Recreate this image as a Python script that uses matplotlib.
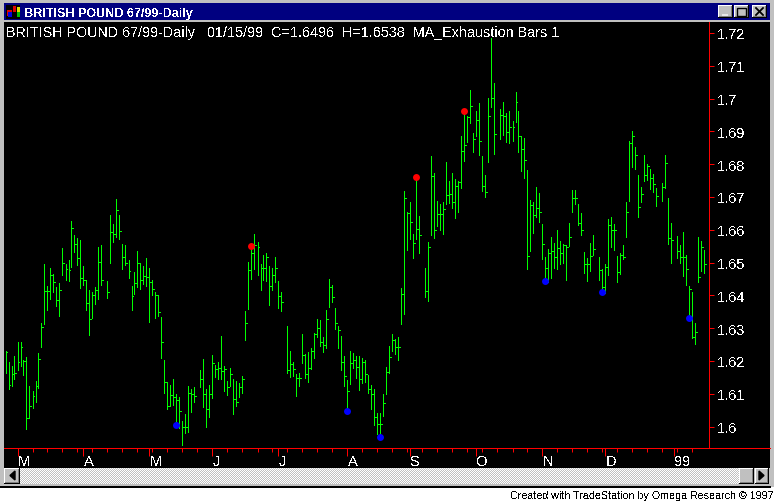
import numpy as np
import matplotlib
matplotlib.use("Agg")
import matplotlib.pyplot as plt
from matplotlib.patches import Rectangle

plt.rcParams["font.family"] = ["Liberation Sans", "DejaVu Sans"]
plt.rcParams["text.antialiased"] = False

WIDTH: int = 774
HEIGHT: int = 502
GREEN: str = "#00FF00"
RED: str = "#FF0000"
BLUE: str = "#0000FF"
SILVER: str = "#C0C0C0"

TITLE: str = "BRITISH POUND 67/99-Daily"
HEADER: str = "BRITISH POUND 67/99-Daily   01/15/99  C=1.6496  H=1.6538  MA_Exhaustion Bars 1"
FOOTER: str = "Created with TradeStation by Omega Research \u00a9 1997"

# Daily bars, None is a day with no trading
HIGHS = [
    1.6230, 1.6197, 1.6184, 1.6215, 1.6258, 1.6258, 1.6203, 1.6212, 1.6123, 1.6108,
    1.6139, 1.6224, 1.6315, 1.6495, 1.6428, 1.6483, 1.6465, 1.6425, 1.6437, 1.6544,
    1.6495, 1.6508, 1.6626, 1.6584, 1.6575, 1.6569, 1.6489, 1.6447, 1.6416, 1.6410,
    1.6425, 1.6547, 1.6553, None, 1.6444, 1.6645, 1.6617, 1.6694, 1.6645, 1.6556,
    1.6553, 1.6508, 1.6428, 1.6471, 1.6535, 1.6498, 1.6489, 1.6514, 1.6483, 1.6447,
    1.6410, 1.6401, 1.6334, 1.6203, 1.6136, 1.6126, 1.6145, 1.6099, 1.6090, 1.6017,
    1.6038, 1.6123, 1.6115, 1.6121, None, 1.6173, 1.6206, 1.6115, 1.6127, 1.6218,
    1.6188, 1.6197, 1.6276, 1.6185, 1.6138, 1.6179, 1.6145, 1.6139, 1.6133, 1.6154,
    1.6353, 1.6502, 1.6552, 1.6587, 1.6563, 1.6496, 1.6523, 1.6529, 1.6490, 1.6484,
    1.6517, 1.6444, 1.6410, None, 1.6307, 1.6231, 1.6197, 1.6160, 1.6163, 1.6282,
    1.6221, 1.6227, 1.6240, 1.6285, 1.6328, 1.6325, 1.6273, 1.6356, 1.6450, 1.6432,
    1.6362, 1.6307, 1.6276, 1.6215, 1.6142, 1.6231, 1.6224, 1.6215, 1.6215, 1.6209,
    1.6203, 1.6157, 1.6126, 1.6114, 1.6041, 1.6041, 1.6099, 1.6181, 1.6245, 1.6282,
    1.6267, 1.6273, 1.6422, 1.6718, 1.6654, 1.6685, 1.6587, 1.6765, 1.6642, None,
    1.6483, 1.6563, 1.6825, 1.6773, 1.6688, 1.6678, 1.6685, 1.6806, 1.6749, 1.6773,
    1.6755, 1.6749, 1.6886, 1.6963, 1.6947, 1.7026, 1.6895, 1.6962, 1.6986, 1.6825,
    1.6767, 1.7002, 1.7185, 1.7047, None, 1.6968, 1.6989, 1.6956, 1.6962, 1.6932,
    1.7020, 1.6962, 1.6886, 1.6880, 1.6782, 1.6691, 1.6685, 1.6730, 1.6712, 1.6618,
    1.6517, 1.6542, 1.6578, 1.6560, 1.6600, 1.6566, 1.6557, 1.6554, 1.6621, 1.6722,
    1.6722, 1.6679, 1.6651, 1.6532, 1.6514, 1.6560, 1.6584, None, 1.6517, 1.6481,
    1.6496, 1.6633, 1.6639, 1.6618, 1.6520, 1.6529, 1.6554, 1.6685, 1.6871, 1.6901,
    1.6853, 1.6767, 1.6731, 1.6828, 1.6801, 1.6786, 1.6770, 1.6728, None, 1.6743,
    1.6828, 1.6697, 1.6621, None, 1.6581, 1.6554, 1.6593, 1.6523, 1.6429, 1.6411,
    1.6316, 1.6578, 1.6566, 1.6538,
]
LOWS = [
    1.6163, 1.6114, 1.6123, 1.6145, 1.6172, 1.6184, 1.6157, 1.5992, 1.6026, 1.6056,
    1.6075, 1.6117, 1.6242, 1.6312, 1.6355, 1.6389, 1.6410, 1.6367, 1.6337, 1.6462,
    1.6447, 1.6444, 1.6486, 1.6532, 1.6492, 1.6422, 1.6431, 1.6355, 1.6279, 1.6330,
    1.6373, 1.6389, 1.6431, None, 1.6392, 1.6498, 1.6562, 1.6578, 1.6572, 1.6480,
    1.6492, 1.6453, 1.6355, 1.6404, 1.6425, 1.6419, 1.6434, 1.6428, 1.6318, 1.6401,
    1.6331, 1.6337, 1.6209, 1.6102, 1.6053, 1.6062, 1.6065, 1.6008, 1.5995, 1.5943,
    1.5980, 1.5983, 1.6045, 1.6075, None, 1.6121, 1.6060, 1.5999, 1.6029, 1.6087,
    1.6151, 1.6145, 1.6145, 1.6109, 1.6096, 1.6124, 1.6038, 1.6063, 1.6090, 1.6102,
    1.6264, 1.6359, 1.6450, 1.6481, 1.6462, 1.6417, 1.6447, 1.6444, 1.6371, 1.6417,
    1.6441, 1.6362, 1.6353, None, 1.6163, 1.6151, 1.6154, 1.6093, 1.6124, 1.6194,
    1.6148, 1.6136, 1.6176, 1.6209, 1.6273, 1.6246, 1.6227, 1.6240, 1.6365, 1.6380,
    1.6298, 1.6240, 1.6173, 1.6124, 1.6054, 1.6130, 1.6179, 1.6148, 1.6112, 1.6133,
    1.6136, 1.6102, 1.6053, 1.6004, 1.5977, 1.5977, 1.6032, 1.6099, 1.6163, 1.6230,
    1.6221, 1.6203, 1.6313, 1.6343, 1.6538, 1.6572, 1.6514, 1.6572, 1.6529, None,
    1.6395, 1.6383, 1.6584, 1.6575, 1.6611, 1.6599, 1.6587, 1.6678, 1.6681, 1.6666,
    1.6636, 1.6654, 1.6727, 1.6810, 1.6867, 1.6925, 1.6837, 1.6886, 1.6828, 1.6718,
    1.6700, 1.6806, 1.6974, 1.6831, None, 1.6877, 1.6889, 1.6867, 1.6864, 1.6871,
    1.6928, 1.6837, 1.6779, 1.6758, 1.6480, 1.6535, 1.6590, 1.6639, 1.6624, 1.6511,
    1.6452, 1.6441, 1.6453, 1.6484, 1.6481, 1.6496, 1.6499, 1.6447, 1.6551, 1.6654,
    1.6679, 1.6615, 1.6584, 1.6468, 1.6444, 1.6475, 1.6523, None, 1.6447, 1.6404,
    1.6407, 1.6462, 1.6548, 1.6539, 1.6441, 1.6465, 1.6511, 1.6578, 1.6688, 1.6792,
    1.6786, 1.6639, 1.6685, 1.6749, 1.6752, 1.6725, 1.6715, 1.6673, None, 1.6688,
    1.6728, 1.6557, 1.6499, None, 1.6514, 1.6499, 1.6459, 1.6432, 1.6334, 1.6270,
    1.6252, 1.6441, 1.6475, 1.6468,
]
CLOSES = [
    1.6226, 1.6128, 1.6159, 1.6162, 1.6196, 1.6241, 1.6199, 1.6025, 1.6061, 1.6092,
    1.6125, 1.6205, 1.6302, 1.6412, 1.6412, 1.6461, 1.6442, 1.6385, 1.6415, 1.6500,
    1.6479, 1.6476, 1.6604, 1.6555, 1.6513, 1.6452, 1.6446, 1.6378, 1.6327, 1.6400,
    1.6415, 1.6503, 1.6446, None, 1.6409, 1.6593, 1.6586, 1.6659, 1.6595, 1.6516,
    1.6500, 1.6473, 1.6397, 1.6436, 1.6497, 1.6446, 1.6458, 1.6455, 1.6442, 1.6418,
    1.6400, 1.6348, 1.6257, 1.6135, 1.6064, 1.6095, 1.6089, 1.6080, 1.6046, 1.5997,
    1.5997, 1.6101, 1.6098, 1.6092, None, 1.6144, 1.6098, 1.6053, 1.6098, 1.6193,
    1.6175, 1.6178, 1.6169, 1.6175, 1.6120, 1.6159, 1.6083, 1.6074, 1.6120, 1.6144,
    1.6315, 1.6476, 1.6528, 1.6554, 1.6547, 1.6483, 1.6483, 1.6516, 1.6428, 1.6461,
    1.6483, 1.6397, 1.6379, None, 1.6172, 1.6190, 1.6175, 1.6147, 1.6147, 1.6217,
    1.6159, 1.6178, 1.6230, 1.6281, 1.6301, 1.6257, 1.6248, 1.6327, 1.6425, 1.6394,
    1.6315, 1.6294, 1.6196, 1.6153, 1.6108, 1.6193, 1.6202, 1.6181, 1.6144, 1.6196,
    1.6159, 1.6114, 1.6098, 1.6028, 1.6009, 1.6009, 1.6073, 1.6165, 1.6211, 1.6263,
    1.6241, 1.6241, 1.6403, 1.6696, 1.6651, 1.6623, 1.6559, 1.6601, 1.6583, None,
    1.6412, 1.6546, 1.6763, 1.6598, 1.6647, 1.6647, 1.6662, 1.6705, 1.6708, 1.6684,
    1.6732, 1.6745, 1.6839, 1.6857, 1.6943, 1.6976, 1.6876, 1.6934, 1.6870, 1.6732,
    1.6714, 1.6946, 1.7001, 1.6891, None, 1.6949, 1.6946, 1.6897, 1.6912, 1.6912,
    1.6988, 1.6885, 1.6845, 1.6812, 1.6519, 1.6674, 1.6644, 1.6665, 1.6653, 1.6556,
    1.6483, 1.6528, 1.6535, 1.6516, 1.6544, 1.6528, 1.6553, 1.6547, 1.6577, 1.6696,
    1.6696, 1.6620, 1.6599, 1.6495, 1.6495, 1.6519, 1.6541, None, 1.6477, 1.6425,
    1.6486, 1.6614, 1.6599, 1.6599, 1.6471, 1.6522, 1.6516, 1.6653, 1.6864, 1.6885,
    1.6827, 1.6669, 1.6708, 1.6766, 1.6794, 1.6757, 1.6739, 1.6702, None, 1.6730,
    1.6803, 1.6574, 1.6568, None, 1.6535, 1.6516, 1.6516, 1.6480, 1.6419, 1.6273,
    1.6288, 1.6455, 1.6547, 1.6496,
]

# MA_Exhaustion signals: bar number and price
RED_BARS = [82, 137, 153]
RED_PRICES = [1.6551, 1.6762, 1.6963]
BLUE_BARS = [57, 114, 125, 180, 199, 228]
BLUE_PRICES = [1.6005, 1.6048, 1.5969, 1.6443, 1.6411, 1.6332]

PRICE_TICKS = [1.60, 1.61, 1.62, 1.63, 1.64, 1.65, 1.66, 1.67, 1.68, 1.69, 1.70, 1.71, 1.72]
MONTH_BARS = [4, 26, 48, 69, 91, 114, 135, 157, 179, 200, 223]
MONTH_LABELS = ["M", "A", "M", "J", "J", "A", "S", "O", "N", "D", "99"]
WEEK_BARS = list(range(4, 230, 5))


def frac_box(x0: float, y0: float, x1: float, y1: float) -> list[float]:
    # Pixel box, y from the top, to figure fractions
    return [x0 / WIDTH, 1 - y1 / HEIGHT, (x1 - x0) / WIDTH, (y1 - y0) / HEIGHT]


def button(ax, x0: float, y0: float, x1: float, y1: float) -> None:
    ax.add_patch(Rectangle((x0, y0), x1 - x0, y1 - y0, fc="black", lw=0, zorder=2))
    ax.add_patch(Rectangle((x0, y0), x1 - x0 - 1, y1 - y0 - 1, fc="white", lw=0, zorder=2))
    ax.add_patch(Rectangle((x0 + 1, y0 + 1), x1 - x0 - 2, y1 - y0 - 2, fc="#808080", lw=0, zorder=2))
    ax.add_patch(Rectangle((x0 + 1, y0 + 1), x1 - x0 - 3, y1 - y0 - 3, fc=SILVER, lw=0, zorder=2))


def draw_chrome(fig) -> None:
    ax = fig.add_axes([0, 0, 1, 1], zorder=0)
    ax.axis("off")

    # Window frame and title bar
    ax.add_patch(Rectangle((0, 0), WIDTH, 488, fc=SILVER, lw=0))
    ax.add_patch(Rectangle((0, 487), 771, 1.5, fc="black", lw=0))
    ax.add_patch(Rectangle((4, 4), 766, 17, fc="#000080", lw=0))
    ax.add_patch(Rectangle((4, 448), 766, 21, fc="black", lw=0))

    # Chart icon
    ax.add_patch(Rectangle((6, 6), 14, 14, fc="black", lw=0))
    ax.add_patch(Rectangle((7, 11), 5, 6, fc="#E00000", lw=0))
    ax.add_patch(Rectangle((8, 13), 4, 5, fc="#0000E0", lw=0))
    ax.add_patch(Rectangle((13, 7), 3, 6, fc="#E00000", lw=0))
    ax.add_patch(Rectangle((17, 8), 3, 5, fc="#E0E000", lw=0))
    ax.add_patch(Rectangle((17, 13), 3, 5, fc="#00C000", lw=0))
    ax.text(24.5, 16.8, TITLE, color="white", fontsize=9.1, fontweight="bold", va="baseline")

    # Minimise, maximise, close
    button(ax, 718, 6, 733, 19)
    ax.add_patch(Rectangle((722, 15), 6, 2, fc="#E8E8E8", lw=0, zorder=3))
    button(ax, 734, 6, 749, 19)
    ax.add_patch(Rectangle((737, 8.5), 9, 8, fc="none", ec="black", lw=1, zorder=3))
    button(ax, 752, 6, 767, 19)
    ax.plot([756, 763], [9, 16], color="black", lw=1.3, zorder=3)
    ax.plot([756, 763], [16, 9], color="black", lw=1.3, zorder=3)

    # Scroll bar
    rows, cols = np.indices((16, 719))
    dither = np.where((rows + cols) % 2 == 0, 1.0, 0.75)
    ax.imshow(dither, cmap="gray", vmin=0, vmax=1, extent=(20, 739, 485, 469),
              interpolation="nearest", aspect="auto", zorder=1)
    button(ax, 4, 469, 20, 485)
    ax.fill([15, 15, 10], [472, 481, 476.5], color="black", zorder=3)
    button(ax, 739, 469, 754, 485)
    button(ax, 755, 469, 769, 485)
    ax.fill([759, 759, 764], [472, 481, 476.5], color="black", zorder=3)

    ax.text(773, 499, FOOTER, color="black", fontsize=7.7, ha="right", va="baseline")

    ax.set_xlim(0, WIDTH)
    ax.set_ylim(HEIGHT, 0)


def draw_chart(fig) -> None:
    ax = fig.add_axes(frac_box(4, 23, 770, 448.5), facecolor="black", zorder=1)
    # One bar every 3 pixels, 3280 pixels to one price unit
    ax.set_xlim((4 - 5.5) / 3, (770 - 5.5) / 3)
    ax.set_ylim(1.72 - (448.5 - 33.9) / 3280, 1.72 + (33.9 - 23) / 3280)

    highs = np.array(HIGHS, dtype=float)
    lows = np.array(LOWS, dtype=float)
    closes = np.array(CLOSES, dtype=float)
    bars = np.arange(len(highs))
    ok = ~np.isnan(highs)

    ax.vlines(bars[ok], lows[ok], highs[ok], color=GREEN, lw=0.72, antialiased=False)
    ax.hlines(closes[ok], bars[ok], bars[ok] + 0.45, color=GREEN, lw=0.72, antialiased=False)

    ax.plot(RED_BARS, RED_PRICES, "o", color=RED, ms=5, mew=0, antialiased=False, zorder=3)
    ax.plot(BLUE_BARS, BLUE_PRICES, "o", color=BLUE, ms=5, mew=0, antialiased=False, zorder=3)

    for side in ("left", "top"):
        ax.spines[side].set_visible(False)
    ax.spines["right"].set_position(("data", (709.3 - 5.5) / 3))
    ax.spines["right"].set_color(RED)
    ax.spines["right"].set_linewidth(0.72)
    ax.spines["bottom"].set_color(RED)
    ax.spines["bottom"].set_linewidth(0.72)

    ax.yaxis.tick_right()
    ax.set_yticks(PRICE_TICKS, [f"{p:g}" for p in PRICE_TICKS])
    ax.tick_params(axis="y", colors="white", color=RED, length=3.6, width=0.72, pad=2, labelsize=10.5)

    ax.set_xticks(MONTH_BARS, MONTH_LABELS, ha="left")
    ax.set_xticks(WEEK_BARS, minor=True)
    ax.tick_params(axis="x", which="major", labelcolor="white", color=RED, length=5.5, width=0.72, pad=-0.5, labelsize=10.5)
    ax.tick_params(axis="x", which="minor", color=RED, length=2.6, width=0.72)

    ax.text((6 - 5.5) / 3, 1.72 + (33.9 - 37) / 3280, HEADER, color="white", fontsize=10.4, va="baseline")


def main() -> None:
    fig = plt.figure(figsize=(WIDTH / 100, HEIGHT / 100), dpi=100, facecolor="white")
    draw_chrome(fig)
    draw_chart(fig)
    fig.savefig("out.png", dpi=100, facecolor="white")


if __name__ == "__main__":
    main()
